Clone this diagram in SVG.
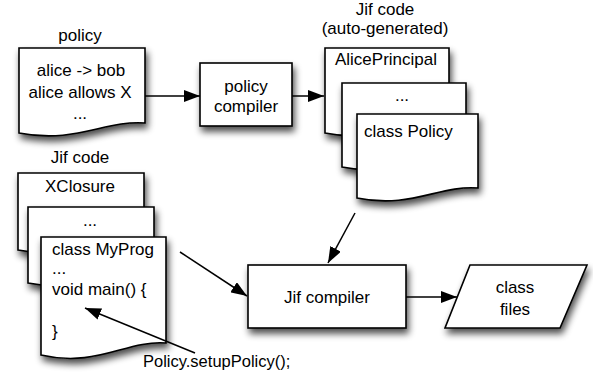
<svg xmlns="http://www.w3.org/2000/svg" width="593" height="381" viewBox="0 0 593 381">
<defs>
<filter id="sh" x="-20%" y="-20%" width="150%" height="160%">
<feGaussianBlur in="SourceAlpha" stdDeviation="3.5"/>
<feOffset dx="2" dy="5" result="o"/>
<feComponentTransfer><feFuncA type="linear" slope="0.7"/></feComponentTransfer>
<feMerge><feMergeNode/><feMergeNode in="SourceGraphic"/></feMerge>
</filter>
<marker id="ah" markerUnits="userSpaceOnUse" markerWidth="17" markerHeight="12" refX="16" refY="6" orient="auto">
<path d="M0,0 L16,6 L0,12 z" fill="#000"/>
</marker>
<style>
.s{fill:#fff;stroke:#000;stroke-width:1.6;filter:url(#sh)}
.t{font-family:"Liberation Sans",Arial,sans-serif;font-size:17px;fill:#000}
.c{text-anchor:middle}
.e{stroke:#000;stroke-width:1.5;fill:none;marker-end:url(#ah)}
</style>
</defs>
<rect width="593" height="381" fill="#fff"/>

<g id="policy">
<text class="t c" x="80" y="41">policy</text>
<path class="s" d="M19,48 H145 V123 C105,120 76,144 19,133 Z"/>
<text class="t c" x="81" y="76">alice -&gt; bob</text>
<text class="t c" x="80" y="98">alice allows X</text>
<text class="t c" x="80" y="119">...</text>
</g>

<g id="policy-compiler">
<rect class="s" x="200" y="63" width="92" height="63"/>
<text class="t c" x="246" y="92">policy</text>
<text class="t c" x="246" y="112">compiler</text>
</g>

<g id="jif-auto">
<text class="t c" x="385" y="15">Jif code</text>
<text class="t c" x="385" y="34">(auto-generated)</text>
<path class="s" d="M325,48 H449 V123 C409,120 380,144 325,133 Z"/>
<text class="t c" x="386" y="65">AlicePrincipal</text>
<path class="s" d="M342,83 H466 V157 C426,154 397,178 342,167 Z"/>
<text class="t c" x="402" y="101">...</text>
<path class="s" d="M357,114 H478 V188 C439,185 411,209 357,198 Z"/>
<text class="t" x="364" y="137">class Policy</text>
</g>

<g id="jif-code">
<text class="t c" x="80" y="163">Jif code</text>
<path class="s" d="M18,173 H144 V240 C104,237 75,261 18,250 Z"/>
<text class="t c" x="80" y="192">XClosure</text>
<path class="s" d="M28,207 H154 V273 C114,270 85,294 28,283 Z"/>
<text class="t c" x="90" y="226">...</text>
<path class="s" d="M41,237 H166 V343 C126,340 97,368 41,355 Z"/>
<text class="t" x="52" y="255">class MyProg</text>
<text class="t" x="52" y="274">...</text>
<text class="t" x="52" y="295">void main() {</text>
<text class="t" x="52" y="337">}</text>
</g>

<g id="setup-label">
<text class="t" x="143" y="367" style="font-size:16.5px">Policy.setupPolicy();</text>
</g>

<g id="jif-compiler">
<rect class="s" x="248" y="265" width="158" height="63"/>
<text class="t c" x="327" y="303">Jif compiler</text>
</g>

<g id="class-files">
<path class="s" d="M470,265 H587 L560,328 H445 Z"/>
<text class="t c" x="515" y="293">class</text>
<text class="t c" x="515" y="315">files</text>
</g>

<g id="connectors">
<line class="e" x1="145" y1="96" x2="200" y2="96"/>
<line class="e" x1="292" y1="96" x2="324" y2="96"/>
<line class="e" x1="355" y1="213" x2="328" y2="263"/>
<line class="e" x1="180" y1="252" x2="247" y2="296"/>
<line class="e" x1="406" y1="297" x2="457" y2="297"/>
<line class="e" x1="195" y1="353" x2="85" y2="308"/>
</g>
</svg>
